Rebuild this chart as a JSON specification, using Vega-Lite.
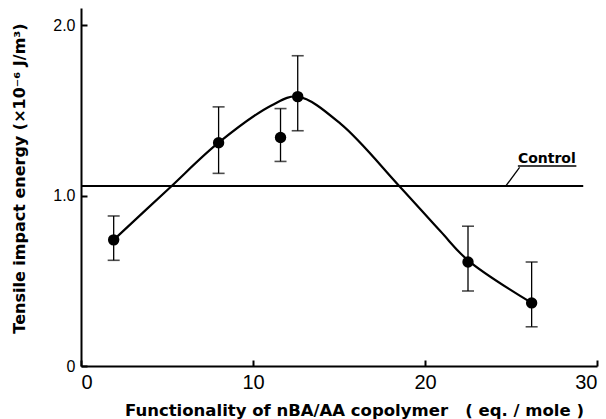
{
  "$schema": "https://vega.github.io/schema/vega-lite/v6.json",
  "width": 516,
  "height": 358,
  "autosize": {"type": "none"},
  "padding": {"left": 81, "top": 8, "right": 9, "bottom": 53},
  "background": "white",
  "config": {
    "view": {"stroke": null},
    "axis": {
      "grid": false,
      "domainColor": "black",
      "domainWidth": 2,
      "tickColor": "black",
      "tickWidth": 2,
      "tickSize": -6,
      "labelColor": "black",
      "titleColor": "black"
    }
  },
  "datasets": {
    "points": [
      {"x": 1.9, "y": 0.74, "lo": 0.62, "hi": 0.88},
      {"x": 8.0, "y": 1.31, "lo": 1.13, "hi": 1.52},
      {"x": 11.6, "y": 1.34, "lo": 1.2, "hi": 1.51},
      {"x": 12.6, "y": 1.58, "lo": 1.38, "hi": 1.82},
      {"x": 22.5, "y": 0.61, "lo": 0.44, "hi": 0.82},
      {"x": 26.2, "y": 0.37, "lo": 0.23, "hi": 0.61}
    ],
    "curve": [
      {"x": 1.9, "y": 0.74},
      {"x": 5.1, "y": 1.04},
      {"x": 8.0, "y": 1.31},
      {"x": 11.1, "y": 1.53},
      {"x": 12.6, "y": 1.58},
      {"x": 15.1, "y": 1.42},
      {"x": 18.5, "y": 1.056},
      {"x": 20.9, "y": 0.79},
      {"x": 22.5, "y": 0.62},
      {"x": 26.2, "y": 0.37}
    ]
  },
  "layer": [
    {
      "data": {"values": [{"x": 0, "x2": 29.2, "y": 1.056}]},
      "mark": {"type": "rule", "color": "black", "strokeWidth": 2},
      "encoding": {
        "x": {
          "field": "x",
          "type": "quantitative",
          "title": "Functionality of nBA/AA copolymer\u00a0\u00a0\u00a0( eq. / mole )",
          "scale": {"domain": [0, 30], "nice": false, "zero": false},
          "axis": {
            "values": [0, 10, 20, 30],
            "labelFont": "Liberation Sans",
            "labelFontSize": 20,
            "labelPadding": 12,
            "titleFont": "DejaVu Sans",
            "titleFontWeight": "bold",
            "titleFontSize": 16.5,
            "titleX": 273,
            "titleY": 49,
            "titleAlign": "center",
            "titleBaseline": "alphabetic"
          }
        },
        "x2": {"field": "x2"},
        "y": {
          "field": "y",
          "type": "quantitative",
          "title": "Tensile impact energy (×10⁻⁶ J/m³)",
          "scale": {"domain": [0, 2.1], "nice": false, "zero": false},
          "axis": {
            "values": [0, 1, 2],
            "labelExpr": "datum.value == 0 ? '0' : format(datum.value, '.1f')",
            "labelFont": "Liberation Sans",
            "labelFontSize": 16,
            "labelPadding": 12,
            "titleFont": "DejaVu Sans",
            "titleFontWeight": "bold",
            "titleFontSize": 16,
            "titleAngle": -90,
            "titleX": -62,
            "titleY": 170,
            "titleAlign": "center",
            "titleBaseline": "middle"
          }
        }
      }
    },
    {
      "data": {"name": "curve"},
      "mark": {"type": "line", "color": "black", "strokeWidth": 2.2, "interpolate": "catmull-rom"},
      "encoding": {
        "x": {"field": "x", "type": "quantitative"},
        "y": {"field": "y", "type": "quantitative"}
      }
    },
    {
      "data": {"name": "points"},
      "mark": {
        "type": "errorbar",
        "color": "black",
        "ticks": {"size": 12, "thickness": 1.6, "color": "black"},
        "rule": {"strokeWidth": 1.3, "color": "black"}
      },
      "encoding": {
        "x": {"field": "x", "type": "quantitative", "title": "Functionality of nBA/AA copolymer\u00a0\u00a0\u00a0( eq. / mole )"},
        "y": {"field": "lo", "type": "quantitative", "title": "Tensile impact energy (×10⁻⁶ J/m³)"},
        "y2": {"field": "hi"}
      }
    },
    {
      "data": {"name": "points"},
      "mark": {"type": "circle", "color": "black", "opacity": 1, "size": 130},
      "encoding": {
        "x": {"field": "x", "type": "quantitative"},
        "y": {"field": "y", "type": "quantitative"}
      }
    },
    {
      "data": {"values": [{"x": 24.7, "y": 1.056, "x2": 25.5, "y2": 1.165}]},
      "mark": {"type": "rule", "color": "black", "strokeWidth": 1.3},
      "encoding": {
        "x": {"field": "x", "type": "quantitative"},
        "y": {"field": "y", "type": "quantitative"},
        "x2": {"field": "x2"},
        "y2": {"field": "y2"}
      }
    },
    {
      "data": {"values": [{"x": 25.4, "x2": 28.8, "y": 1.173}]},
      "mark": {"type": "rule", "color": "black", "strokeWidth": 1.5},
      "encoding": {
        "x": {"field": "x", "type": "quantitative"},
        "x2": {"field": "x2"},
        "y": {"field": "y", "type": "quantitative"}
      }
    },
    {
      "data": {"values": [{"x": 25.4, "y": 1.19, "label": "Control"}]},
      "mark": {"type": "text", "align": "left", "baseline": "alphabetic", "font": "DejaVu Sans", "fontWeight": "bold", "fontSize": 14, "color": "black"},
      "encoding": {
        "x": {"field": "x", "type": "quantitative"},
        "y": {"field": "y", "type": "quantitative"},
        "text": {"field": "label"}
      }
    }
  ]
}
